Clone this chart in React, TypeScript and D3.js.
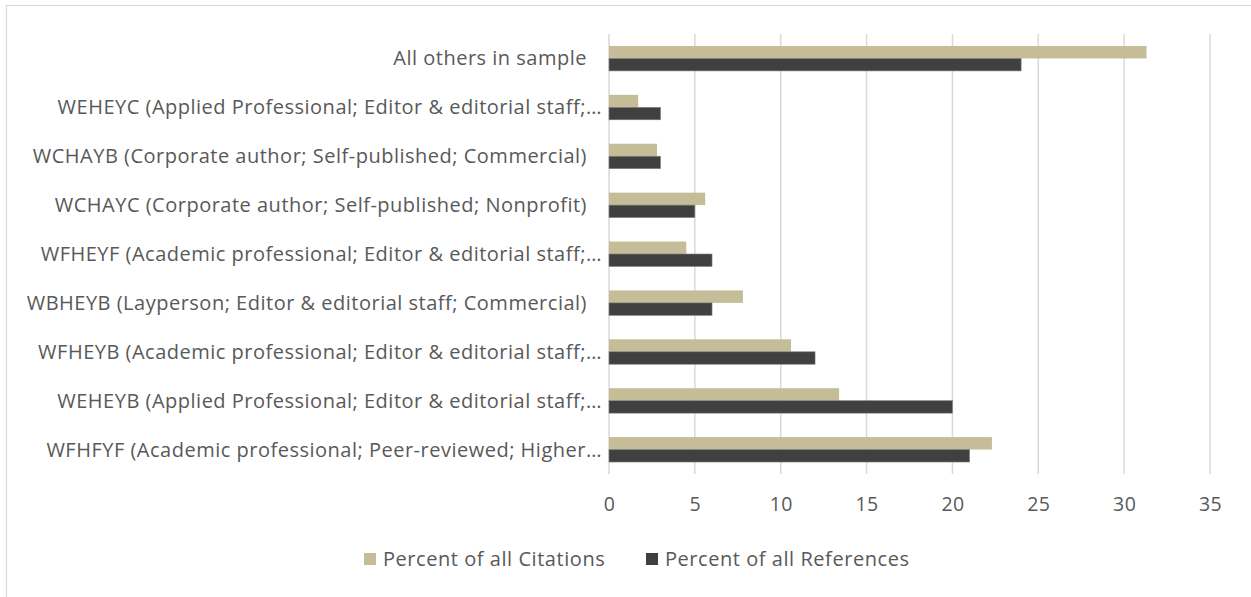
import * as d3 from "d3";
import { useRef, useEffect } from "react";

const categories = [
  "All others in sample",
  "WEHEYC (Applied Professional; Editor & editorial staff;…",
  "WCHAYB (Corporate author; Self-published; Commercial)",
  "WCHAYC (Corporate author; Self-published; Nonprofit)",
  "WFHEYF (Academic professional; Editor & editorial staff;…",
  "WBHEYB (Layperson; Editor & editorial staff; Commercial)",
  "WFHEYB (Academic professional; Editor & editorial staff;…",
  "WEHEYB (Applied Professional; Editor & editorial staff;…",
  "WFHFYF (Academic professional; Peer-reviewed; Higher…",
];
const citations = [31.3, 1.7, 2.8, 5.6, 4.5, 7.8, 10.6, 13.4, 22.3];
const references = [24, 3, 3, 5, 6, 6, 12, 20, 21];
const seriesNames = ["Percent of all Citations", "Percent of all References"];
const xTicks = [0, 5, 10, 15, 20, 25, 30, 35];

const colors = ["#C4BD97", "#404040"];
const font = "'Open Sans', sans-serif";

export default function App() {
  const svgRef = useRef(null);

  useEffect(() => {
    const width = 1251;
    const height = 597;
    const left = 609;
    const right = 1210;
    const top = 34;
    const bottom = 474;

    const svg = d3.select(svgRef.current).attr("width", width).attr("height", height);
    svg.selectAll("*").remove();

    svg
      .append("rect")
      .attr("x", 6.5)
      .attr("y", 5.5)
      .attr("width", width + 10)
      .attr("height", height + 10)
      .attr("fill", "white")
      .attr("stroke", "#d9d9d9")
      .attr("stroke-width", 1.3);

    const x = d3.scaleLinear().domain([0, 35]).range([left, right]);
    const y = d3.scaleBand().domain(categories).range([top, bottom]).paddingInner(0.49).paddingOuter(0.245);
    const sub = d3.scaleBand().domain(seriesNames).range([0, y.bandwidth()]);

    // gridlines
    svg
      .append("g")
      .selectAll("line")
      .data(xTicks)
      .join("line")
      .attr("x1", (d) => x(d))
      .attr("x2", (d) => x(d))
      .attr("y1", top)
      .attr("y2", bottom)
      .attr("stroke", "#d9d9d9")
      .attr("stroke-width", 1.5);

    const series = [citations, references];
    series.forEach((vals, si) => {
      svg
        .append("g")
        .selectAll("rect")
        .data(vals)
        .join("rect")
        .attr("x", x(0))
        .attr("y", (_, i) => y(categories[i])! + sub(seriesNames[si])!)
        .attr("width", (d) => x(d) - x(0))
        .attr("height", sub.bandwidth())
        .attr("fill", colors[si])
        .attr("stroke", si === 1 ? "#808080" : "none")
        .attr("stroke-width", 0.6);
    });

    // x axis
    const xAxis = svg
      .append("g")
      .attr("transform", `translate(0,${bottom})`)
      .call(d3.axisBottom(x).tickValues(xTicks).tickSize(0).tickPadding(23));
    xAxis.select(".domain").remove();
    xAxis
      .selectAll("text")
      .attr("font-family", font)
      .attr("font-size", 19.5)
      .attr("letter-spacing", 0.4)
      .attr("fill", "#595959");

    // category labels
    svg
      .append("g")
      .selectAll("text")
      .data(categories)
      .join("text")
      .attr("x", (d) => (d.endsWith("…") ? 602 : 587))
      .attr("y", (d) => y(d)! + y.bandwidth() / 2)
      .attr("dy", "0.35em")
      .attr("text-anchor", "end")
      .attr("font-family", font)
      .attr("font-size", 20)
      .attr("letter-spacing", 0.5)
      .attr("fill", "#595959")
      .text((d) => d);

    // legend
    const legendX = [364, 646];
    seriesNames.forEach((name, i) => {
      svg
        .append("rect")
        .attr("x", legendX[i])
        .attr("y", 553)
        .attr("width", 12)
        .attr("height", 12)
        .attr("fill", colors[i]);
      svg
        .append("text")
        .attr("x", legendX[i] + 19)
        .attr("y", 559)
        .attr("dy", "0.35em")
        .attr("font-family", font)
        .attr("font-size", 20)
        .attr("letter-spacing", 0.55)
        .attr("fill", "#595959")
        .text(name);
    });
  }, []);

  return (
    <div style={{ position: "absolute", left: 0, top: 0 }}>
      <svg ref={svgRef} style={{ display: "block" }} />
    </div>
  );
}
